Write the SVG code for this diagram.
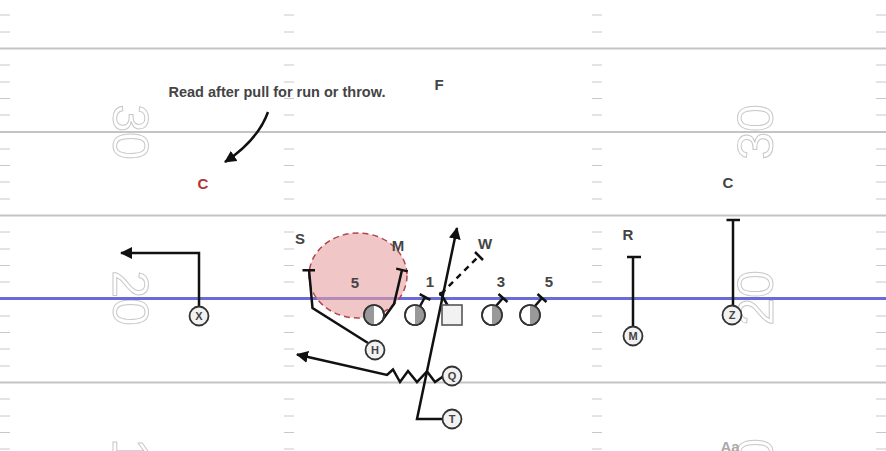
<svg xmlns="http://www.w3.org/2000/svg" width="886" height="451" viewBox="0 0 886 451">
<style>
.yard{stroke:#c4c4c4;stroke-width:2;fill:none}
.hash{stroke:#c8c8c8;stroke-width:1;fill:none}
.num{font-family:"Liberation Sans",Arial,sans-serif;font-size:50px;fill:#fff;stroke:#c8c8c8;stroke-width:1;text-anchor:middle}
.route{stroke:#111;stroke-width:2.5;fill:none;stroke-linejoin:miter}
.dash{stroke:#111;stroke-width:2.5;fill:none;stroke-dasharray:6 5}
.off{fill:#f2f2f2;stroke:#333;stroke-width:1.8}
.ol{fill:#fff;stroke:#333;stroke-width:1.6}
.shade{fill:#999}
.pl{font-family:"Liberation Sans",Arial,sans-serif;font-size:11px;font-weight:bold;fill:#444;text-anchor:middle}
.lbl{font-family:"Liberation Sans",Arial,sans-serif;font-size:15px;font-weight:bold;fill:#444;text-anchor:middle}
.note{font-family:"Liberation Sans",Arial,sans-serif;font-size:14.5px;font-weight:bold;fill:#444;text-anchor:middle}
</style>
<defs>
<marker id="ah" markerUnits="userSpaceOnUse" viewBox="0 0 12 12" markerWidth="12" markerHeight="12" refX="11" refY="6" orient="auto">
<path d="M0,0 L12,6 L0,12 z" fill="#111"/>
</marker>
</defs>
<rect width="886" height="451" fill="#fff"/>
<g id="field">
<text class="num" transform="translate(113,132) rotate(90)">30</text>
<text class="num" transform="translate(113,298) rotate(90)">20</text>
<text class="num" transform="translate(113,466) rotate(90)">10</text>
<text class="num" transform="translate(773,132) rotate(-90)">30</text>
<text class="num" transform="translate(773,298) rotate(-90)">20</text>
<text class="num" transform="translate(773,466) rotate(-90)">10</text>
<path class="yard" d="M0,48.5H886M0,132H886M0,215.5H886M0,382.5H886"/>
<path class="hash" d="M0,15h10M284,15h10M592,15h10M876,15h10
M0,32h10M284,32h10M592,32h10M876,32h10
M0,65h10M284,65h10M592,65h10M876,65h10
M0,82h10M284,82h10M592,82h10M876,82h10
M0,98.5h10M284,98.5h10M592,98.5h10M876,98.5h10
M0,115h10M284,115h10M592,115h10M876,115h10
M0,149h10M284,149h10M592,149h10M876,149h10
M0,165.5h10M284,165.5h10M592,165.5h10M876,165.5h10
M0,182h10M284,182h10M592,182h10M876,182h10
M0,199h10M284,199h10M592,199h10M876,199h10
M0,232h10M284,232h10M592,232h10M876,232h10
M0,249h10M284,249h10M592,249h10M876,249h10
M0,265.5h10M284,265.5h10M592,265.5h10M876,265.5h10
M0,282h10M284,282h10M592,282h10M876,282h10
M0,316h10M284,316h10M592,316h10M876,316h10
M0,332.5h10M284,332.5h10M592,332.5h10M876,332.5h10
M0,349h10M284,349h10M592,349h10M876,349h10
M0,366h10M284,366h10M592,366h10M876,366h10
M0,399h10M284,399h10M592,399h10M876,399h10
M0,416h10M284,416h10M592,416h10M876,416h10
M0,432.5h10M284,432.5h10M592,432.5h10M876,432.5h10
M0,449h10M284,449h10M592,449h10M876,449h10"/>
<text x="730" y="452" font-family="Liberation Sans, Arial, sans-serif" font-size="15" font-weight="bold" fill="#aaa" text-anchor="middle">Aa</text>
<line x1="0" y1="298.5" x2="886" y2="298.5" stroke="#6a6ad8" stroke-width="3"/>
</g>
<g id="zone">
<ellipse cx="358" cy="275.5" rx="49" ry="42.5" fill="#e8a0a0" fill-opacity="0.6" stroke="#b0454c" stroke-width="1.5" stroke-dasharray="6 4"/>
</g>
<g id="connectors">
<path class="route" d="M199,306 V253 H121" marker-end="url(#ah)"/>
<path class="route" d="M733,306 V220 M726.5,220 H740"/>
<path class="route" d="M633,327 V257 M627,257 H641"/>
<path class="route" d="M381,322 L394,304 L402,270 M396.2,268.6 L407.8,271.4"/>
<path class="route" d="M419,308 L425,297 M419.7,294.1 L430.3,299.9"/>
<path class="route" d="M496,306 L503,298 M498.5,294 L507.5,302"/>
<path class="route" d="M535,306 L542,298 M537.5,294 L546.5,302"/>
<path class="route" d="M368,343 L312.5,308 L309,270 M302.5,270.3 H315"/>
<path class="route" d="M448,306 L441,294"/>
<circle cx="441" cy="294" r="2.2" fill="#111"/>
<path class="dash" d="M441,294 L479,256"/>
<path class="route" d="M475,252 L483,260"/>
<path class="route" d="M443,419 H417 L457,228" marker-end="url(#ah)"/>
<path class="route" d="M443,376.5 L435,382 L427,371.5 L417,382 L408,371 L400,382 L393,369.5 L387,375 L297,354.5" marker-end="url(#ah)"/>
<path class="route" d="M268,112 Q258,140 225,162" marker-end="url(#ah)"/>
</g>
<g id="lineman-lg">
<circle cx="374" cy="315" r="10" class="ol"/>
<path class="shade" d="M374,305 A10,10 0 0,0 374,325 Z"/>
<circle cx="374" cy="315" r="10" fill="none" stroke="#333" stroke-width="1.6"/>
</g>
<g id="lineman-lt">
<circle cx="415" cy="315" r="10" class="ol"/>
<path class="shade" d="M415,305 A10,10 0 0,1 415,325 Z"/>
<circle cx="415" cy="315" r="10" fill="none" stroke="#333" stroke-width="1.6"/>
</g>
<g id="center">
<rect x="442" y="305" width="20" height="20" fill="#f2f2f2" stroke="#555" stroke-width="1.6"/>
</g>
<g id="lineman-rg">
<circle cx="492" cy="315" r="10" class="ol"/>
<path class="shade" d="M492,305 A10,10 0 0,1 492,325 Z"/>
<circle cx="492" cy="315" r="10" fill="none" stroke="#333" stroke-width="1.6"/>
</g>
<g id="lineman-rt">
<circle cx="530" cy="315" r="10" class="ol"/>
<path class="shade" d="M530,305 A10,10 0 0,1 530,325 Z"/>
<circle cx="530" cy="315" r="10" fill="none" stroke="#333" stroke-width="1.6"/>
</g>
<g id="player-x"><circle cx="199" cy="316" r="9.5" class="off"/><text class="pl" x="199" y="320">X</text></g>
<g id="player-h"><circle cx="375" cy="350" r="9.5" class="off"/><text class="pl" x="375" y="354">H</text></g>
<g id="player-q"><circle cx="452" cy="376" r="9.5" class="off"/><text class="pl" x="452" y="380">Q</text></g>
<g id="player-t"><circle cx="452" cy="419" r="9.5" class="off"/><text class="pl" x="452" y="423">T</text></g>
<g id="player-z"><circle cx="732" cy="315" r="9.5" class="off"/><text class="pl" x="732" y="319">Z</text></g>
<g id="player-m"><circle cx="633" cy="336" r="9.5" class="off"/><text class="pl" x="633" y="340">M</text></g>
<g id="def-s"><text class="lbl" x="300" y="244">S</text></g>
<g id="def-m"><text class="lbl" x="398" y="250.5">M</text></g>
<g id="def-w"><text class="lbl" x="485" y="249">W</text></g>
<g id="def-r"><text class="lbl" x="628" y="240">R</text></g>
<g id="def-c-right"><text class="lbl" x="728" y="188">C</text></g>
<g id="def-c-left"><text class="lbl" x="203" y="189" style="fill:#b03535">C</text></g>
<g id="def-f"><text class="lbl" x="439" y="90">F</text></g>
<g id="gap-labels">
<text class="lbl" x="355" y="288">5</text>
<text class="lbl" x="430" y="287">1</text>
<text class="lbl" x="501" y="287">3</text>
<text class="lbl" x="549" y="287">5</text>
</g>
<g id="note"><text class="note" x="277" y="97">Read after pull for run or throw.</text></g>
</svg>
